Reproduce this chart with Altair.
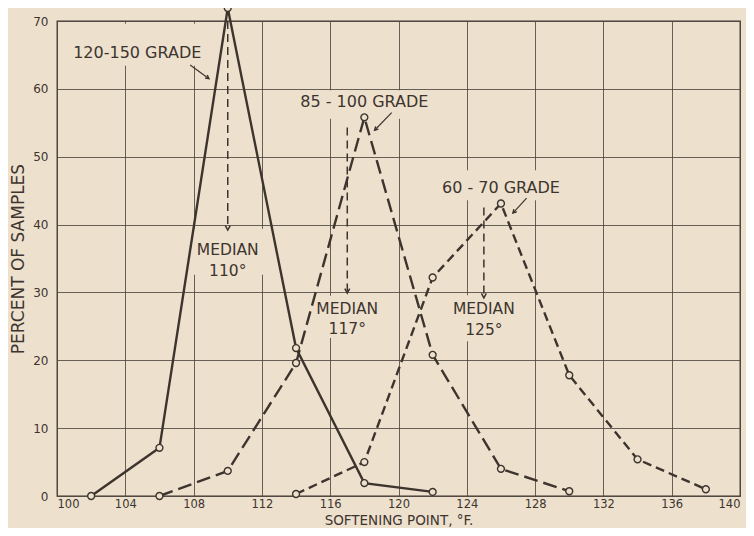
import altair as alt
import pandas as pd

# ---- data ----
x_ticks = [100, 104, 108, 112, 116, 120, 124, 128, 132, 136, 140]
y_ticks = [0, 10, 20, 30, 40, 50, 60, 70]

g120_x = [102, 106, 110, 114, 118, 122]
g120_y = [0.0, 7.1, 71.9, 21.8, 1.9, 0.6]

g85_x = [106, 110, 114, 118, 122, 126, 130]
g85_y = [0.0, 3.7, 19.6, 55.8, 20.8, 4.0, 0.7]

g60_x = [114, 118, 122, 126, 130, 134, 138]
g60_y = [0.3, 5.0, 32.2, 43.1, 17.8, 5.4, 1.0]

# medians: x, dashed line top, arrow tip
med_x = [110, 117, 125]
med_top = [70.0, 54.3, 42.5]
med_tip = [39.2, 29.9, 29.2]
med_lab1_y = [36.3, 27.6, 27.5]
med_lab2_y = [33.2, 24.6, 24.4]
med_lab2 = ["110°", "117°", "125°"]

# grade labels
grade_text = ["120-150  GRADE", "85 - 100  GRADE", "60 - 70  GRADE"]
grade_tx = [104.7, 118.0, 126.0]
grade_ty = [65.3, 58.0, 45.4]
# grade arrows start -> end
arr_x1 = [107.8, 119.6, 127.5]
arr_y1 = [63.5, 56.5, 43.9]
arr_x2 = [108.9, 118.6, 126.7]
arr_y2 = [61.5, 53.9, 41.7]
arr_angle = [126, 224, 223]

# label background patches (gridlines are broken behind lettering)
bg_x1 = [100.5, 113.8, 122.1, 106.0, 114.6, 123.0]
bg_x2 = [108.9, 122.2, 130.0, 112.3, 119.6, 127.4]
bg_y1 = [63.4, 55.6, 43.6, 32.6, 23.3, 22.8]
bg_y2 = [69.6, 59.8, 48.0, 39.4, 29.5, 29.6]

BG = "#ede1ce"
INK = "#3d342e"
FONT = "DejaVu Sans"

xs = alt.Scale(domain=[100, 140], nice=False, zero=False)
ys = alt.Scale(domain=[0, 70], nice=False)

def series(xv, yv):
    return pd.DataFrame({"x": xv, "y": yv})

d120 = series(g120_x, g120_y)
d85 = series(g85_x, g85_y)
d60 = series(g60_x, g60_y)
dall = pd.concat([d120, d85, d60])

X = alt.X("x:Q", scale=xs, axis=alt.Axis(
    values=x_ticks, grid=True, ticks=False, domain=False,
    labelFont=FONT, labelFontSize=11.5, labelColor=INK, labelPadding=2,
    title="SOFTENING POINT, °F.", titleFont=FONT, titleFontSize=13.5,
    titleFontWeight="normal", titleColor=INK, titleY=28.5, titleBaseline="alphabetic",
    gridColor="#4f463f", gridWidth=1, gridOpacity=0.85))
Y = alt.Y("y:Q", scale=ys, axis=alt.Axis(
    values=y_ticks, grid=True, ticks=False, domain=False,
    labelFont=FONT, labelFontSize=12, labelColor=INK, labelPadding=9,
    title="PERCENT OF SAMPLES", titleFont=FONT, titleFontSize=17,
    titleFontWeight="normal", titleColor=INK, titleX=-39, titleBaseline="middle",
    gridColor="#4f463f", gridWidth=1, gridOpacity=0.85))

bg = pd.DataFrame({"x": bg_x1, "x2": bg_x2, "y": bg_y1, "y2": bg_y2})
bg_layer = alt.Chart(bg).mark_rect(color=BG).encode(
    x=X, x2="x2:Q", y=Y, y2="y2:Q")

l120 = alt.Chart(d120).mark_line(color=INK, strokeWidth=2.4).encode(x=X, y=Y)
l85 = alt.Chart(d85).mark_line(color=INK, strokeWidth=2.4, strokeDash=[14, 6]).encode(x=X, y=Y)
l60 = alt.Chart(d60).mark_line(color=INK, strokeWidth=2.4, strokeDash=[9, 5]).encode(x=X, y=Y)
pts = alt.Chart(dall).mark_point(shape="circle", size=48, filled=True, fill=BG,
                                 stroke=INK, strokeWidth=1.4, opacity=1).encode(x=X, y=Y)

med = pd.DataFrame({"x": med_x, "y": med_top, "y2": med_tip,
                    "l1": med_lab1_y, "l2": med_lab2_y, "t2": med_lab2})
med_rule = alt.Chart(med).mark_rule(color=INK, strokeWidth=1.5, strokeDash=[8, 5]).encode(
    x=X, y=Y, y2="y2:Q")
V = "M -0.55 1 L 0 0 L 0.55 1"
med_head = alt.Chart(med).mark_point(shape=V, size=80, filled=False, color=INK,
                                     strokeWidth=1.5, angle=180, opacity=1).encode(
    x=X, y=alt.Y("y2:Q", scale=ys))
med_t1 = alt.Chart(med).mark_text(text="MEDIAN", font=FONT, fontSize=15.5, color=INK,
                                  baseline="middle").encode(x=X, y=alt.Y("l1:Q", scale=ys))
med_t2 = alt.Chart(med).mark_text(font=FONT, fontSize=15.5, color=INK,
                                  baseline="middle").encode(
    x=X, y=alt.Y("l2:Q", scale=ys), text="t2:N")

gr = pd.DataFrame({"tx": grade_tx, "ty": grade_ty, "t": grade_text,
                   "x": arr_x1, "y": arr_y1, "x2": arr_x2, "y2": arr_y2, "a": arr_angle})
gr_text = alt.Chart(gr).mark_text(font=FONT, fontSize=16, color=INK, baseline="middle").encode(
    x=alt.X("tx:Q", scale=xs), y=alt.Y("ty:Q", scale=ys), text="t:N")
gr_rule = alt.Chart(gr).mark_rule(color=INK, strokeWidth=1.2).encode(
    x=X, y=Y, x2="x2:Q", y2="y2:Q")
gr_head = alt.Chart(gr).mark_point(shape=V, size=50, filled=False, color=INK,
                                   strokeWidth=1.4, opacity=1).encode(
    x=alt.X("x2:Q", scale=xs), y=alt.Y("y2:Q", scale=ys),
    angle=alt.Angle("a:Q", scale=None))

chart = alt.layer(
    bg_layer, l120, l85, l60, med_rule, med_head, pts,
    med_t1, med_t2, gr_text, gr_rule, gr_head
).properties(
    width=683, height=475,
    autosize=alt.AutoSizeParams(type="none"),
    padding={"left": 49, "top": 13, "right": 6, "bottom": 32},
    background=BG,
).configure_view(stroke=INK, strokeWidth=1.3)

chart.save("out.html", embed_options={"renderer": "svg", "actions": False})
